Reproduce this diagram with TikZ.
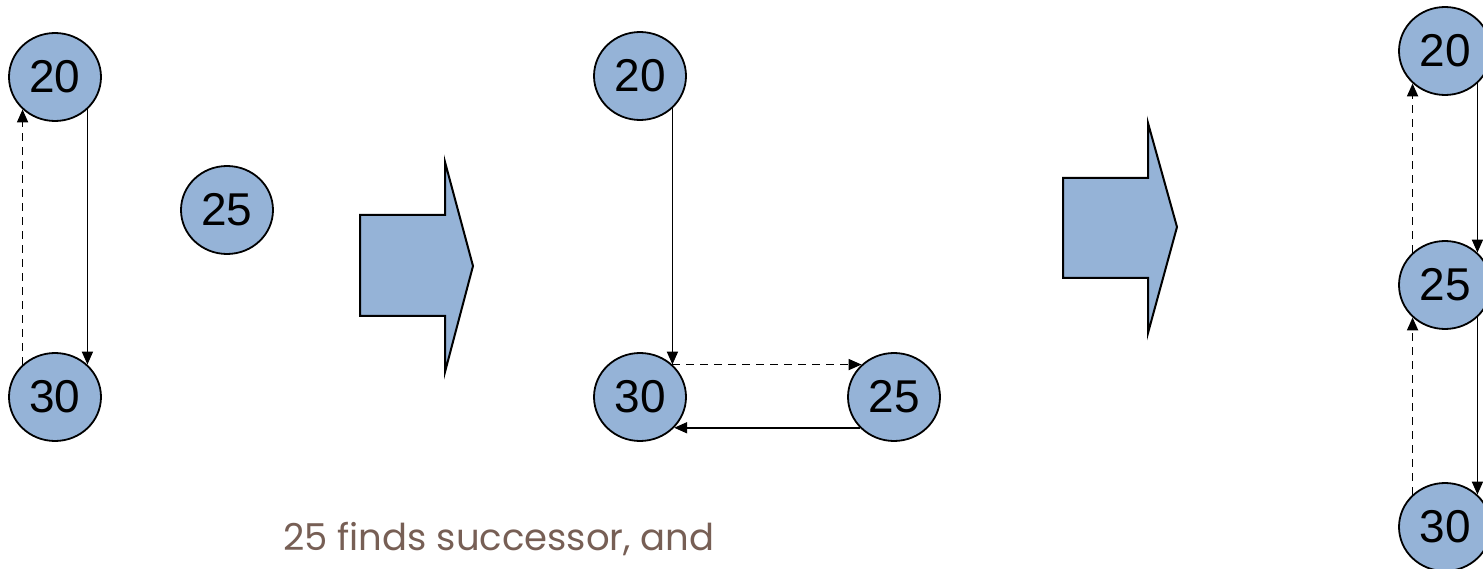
\documentclass[tikz,border=0pt]{standalone}
\usepackage{fontspec}
\setmainfont{Liberation Sans}
\newfontfamily\captionfont{Poppins}
\usetikzlibrary{arrows.meta}
\definecolor{nodefill}{RGB}{149,179,215}
\definecolor{captext}{RGB}{119,95,85}
\tikzset{
  keynode/.style={ellipse, draw=black, line width=1.8pt, fill=nodefill, minimum width=92pt, minimum height=88pt, inner sep=0pt, font=\fontsize{46}{46}\selectfont},
  link/.style={line width=1.8pt, -{Triangle[length=13pt,width=11pt]}},
  dlink/.style={link, dash pattern=on 8pt off 6pt},
  bigarrow/.style={draw=black, line width=2pt, fill=nodefill, line join=miter}
}
\usetikzlibrary{shapes.geometric}
\begin{document}
\begin{tikzpicture}[x=1pt,y=-1pt]
\useasboundingbox (0,0) rectangle (1483,569);
% left group
\node[keynode] (a20) at (55,77) {20};
\node[keynode] (a30) at (55,397) {30};
\node[keynode] (a25) at (227,210) {25};
\draw[link] (a20.-45) -- (a30.45);
\draw[dlink] (a30.135) -- (a20.225);
% big arrow 1
\draw[bigarrow] (360,215) -- (445,215) -- (445,162) -- (473,266) -- (445,372) -- (445,316) -- (360,316) -- cycle;
% middle group
\node[keynode] (m20) at (640,76) {20};
\node[keynode] (m30) at (640,397) {30};
\node[keynode] (m25) at (894,397) {25};
\draw[link] (m20.-45) -- (m30.45);
\draw[dlink] (m30.45) -- (m25.135);
\draw[link] (m25.222) -- (m30.-42);
% big arrow 2
\draw[bigarrow] (1063,178) -- (1148,178) -- (1148,123) -- (1177,227) -- (1148,333) -- (1148,278) -- (1063,278) -- cycle;
% right group
\node[keynode] (r20) at (1445,51) {20};
\node[keynode] (r25) at (1445,285) {25};
\node[keynode] (r30) at (1445,527) {30};
\draw[link] (r20.-45) -- (r25.45);
\draw[link] (r25.-45) -- (r30.45);
\draw[dlink] (r25.135) -- (r20.225);
\draw[dlink] (r30.135) -- (r25.225);
% caption
\node[anchor=base west, inner sep=0pt, text=captext, font=\captionfont\fontsize{37}{37}\selectfont] (cap) at (283,550) {25 finds successor, and};
\end{tikzpicture}
\end{document}
